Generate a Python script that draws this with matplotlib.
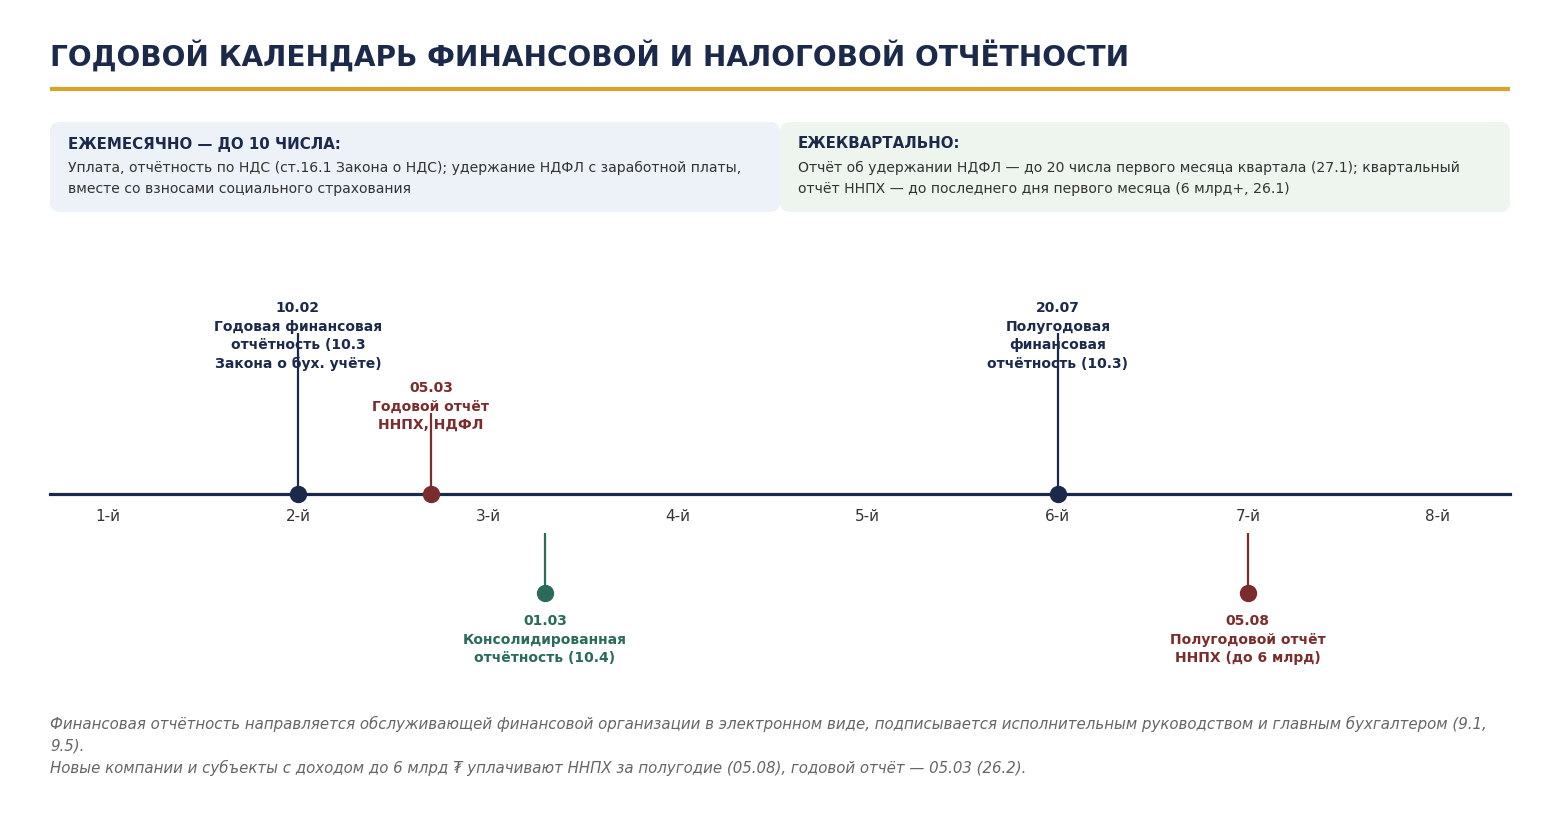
import numpy as np
import matplotlib
matplotlib.use("Agg")
import matplotlib.pyplot as plt
from matplotlib.patches import FancyBboxPatch

# colours
navy = "#1b2a4a"
maroon = "#7b2d2d"
green = "#2b6b5b"
gold = "#d4a52a"

title = "ГОДОВОЙ КАЛЕНДАРЬ ФИНАНСОВОЙ И НАЛОГОВОЙ ОТЧЁТНОСТИ"

box_titles = ["ЕЖЕМЕСЯЧНО — ДО 10 ЧИСЛА:", "ЕЖЕКВАРТАЛЬНО:"]
box_texts = [
    "Уплата, отчётность по НДС (ст.16.1 Закона о НДС); удержание НДФЛ с заработной платы,\n"
    "вместе со взносами социального страхования",
    "Отчёт об удержании НДФЛ — до 20 числа первого месяца квартала (27.1); квартальный\n"
    "отчёт ННПХ — до последнего дня первого месяца (6 млрд+, 26.1)",
]

# timeline
tick_pos = [1, 2, 3, 4, 5, 6, 7, 8]
tick_labels = ["1-й", "2-й", "3-й", "4-й", "5-й", "6-й", "7-й", "8-й"]

event_pos = [2.0, 2.7, 3.3, 6.0, 7.0]
event_side = ["up", "up", "down", "up", "down"]
event_tall = [True, False, False, True, False]
event_colors = [navy, maroon, green, navy, maroon]
event_labels = [
    "10.02\nГодовая финансовая\nотчётность (10.3\nЗакона о бух. учёте)",
    "05.03\nГодовой отчёт\nННПХ, НДФЛ",
    "01.03\nКонсолидированная\nотчётность (10.4)",
    "20.07\nПолугодовая\nфинансовая\nотчётность (10.3)",
    "05.08\nПолугодовой отчёт\nННПХ (до 6 млрд)",
]

footnote = ("Финансовая отчётность направляется обслуживающей финансовой организации в электронном виде, "
            "подписывается исполнительным руководством и главным бухгалтером (9.1,\n9.5).\n"
            "Новые компании и субъекты с доходом до 6 млрд ₮ уплачивают ННПХ за полугодие (05.08), "
            "годовой отчёт — 05.03 (26.2).")

W, H = 1560, 819
fig = plt.figure(figsize=(W / 100, H / 100), dpi=100)

# background axes in pixel units
bg = fig.add_axes([0, 0, 1, 1])
bg.set_xlim(0, W)
bg.set_ylim(H, 0)
bg.axis("off")

bg.text(50, 57, title, fontsize=20.2, fontweight="bold", color=navy, va="center", ha="left")
bg.plot([50, 1510], [89, 89], color=gold, lw=3, solid_capstyle="butt")

box_x = [50, 780]
box_fill = ["#edf1f8", "#eef4ee"]
for i in range(2):
    bg.add_patch(FancyBboxPatch((box_x[i], 122), 730, 90,
                                boxstyle="round,pad=0,rounding_size=10",
                                fc=box_fill[i], ec="none"))
    bg.text(box_x[i] + 18, 144, box_titles[i], fontsize=10.85, fontweight="bold",
            color=navy, va="center")
    bg.text(box_x[i] + 18, 161, box_texts[i], fontsize=10.05, color="#333333",
            va="top", linespacing=1.63)

bg.text(50, 716, footnote, fontsize=10.8, style="italic", color="#666666",
        va="top", linespacing=1.5)

# timeline axes: 1 y-unit = 1 px, line at y=0
tl = fig.add_axes([50 / W, 1 - 700 / H, 1460 / W, 420 / H])
tl.set_xlim(0.695, 8.38)
tl.set_ylim(-206, 214)
tl.patch.set_alpha(0)
for s in ["top", "left", "right"]:
    tl.spines[s].set_visible(False)
tl.spines["bottom"].set_position(("data", 0))
tl.spines["bottom"].set_color(navy)
tl.spines["bottom"].set_linewidth(2.3)
tl.set_yticks([])
tl.set_xticks(tick_pos)
tl.set_xticklabels(tick_labels, fontsize=11, color="#333333")
tl.tick_params(axis="x", length=0, pad=11)

for x, side, tall, c, lab in zip(event_pos, event_side, event_tall, event_colors, event_labels):
    if side == "up":
        top = 161 if tall else 81
        tl.vlines(x, 0, top, color=c, lw=1.6, zorder=2)
        tl.plot(x, 0.5, "o", ms=11.5, color=c, zorder=5, clip_on=False)
        tl.text(x, top + 32, lab, ha="center", va="top", fontsize=10,
                fontweight="bold", color=c, zorder=3, linespacing=1.42)
    else:
        tl.vlines(x, -39, -99, color=c, lw=1.6, zorder=2)
        tl.plot(x, -99, "o", ms=11.5, color=c, zorder=5)
        tl.text(x, -120, lab, ha="center", va="top", fontsize=10,
                fontweight="bold", color=c, zorder=3, linespacing=1.42)

fig.savefig("out.png", dpi=100)
